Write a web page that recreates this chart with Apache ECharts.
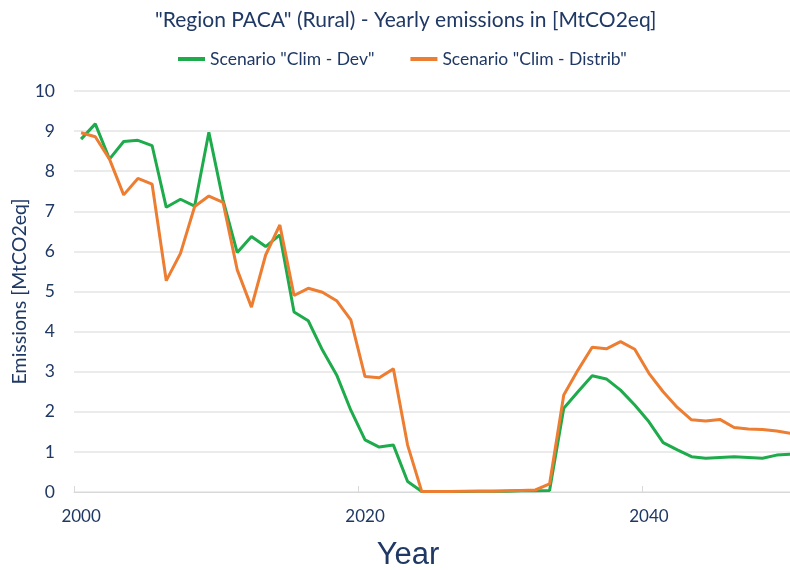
<!DOCTYPE html>
<html>
<head>
<meta charset="utf-8">
<script src="https://cdn.jsdelivr.net/npm/echarts@6/dist/echarts.min.js"></script>
<style>
  html, body { margin: 0; padding: 0; background: #ffffff; }
  #chart { width: 790px; height: 570px; }
</style>
</head>
<body>
<div id="chart"></div>
<script>
// Yearly emissions, region PACA (rural), two scenarios, in MtCO2eq
const years = [
  '2000','2001','2002','2003','2004','2005','2006','2007','2008','2009',
  '2010','2011','2012','2013','2014','2015','2016','2017','2018','2019',
  '2020','2021','2022','2023','2024','2025','2026','2027','2028','2029',
  '2030','2031','2032','2033','2034','2035','2036','2037','2038','2039',
  '2040','2041','2042','2043','2044','2045','2046','2047','2048','2049',
  '2050'
];

const climDev = [
  8.80, 9.18, 8.30, 8.74, 8.77, 8.64, 7.10, 7.30, 7.13, 8.97,
  7.28, 5.97, 6.37, 6.12, 6.41, 4.49, 4.27, 3.54, 2.92, 2.04,
  1.30, 1.12, 1.17, 0.26, 0.01, 0.01, 0.01, 0.01, 0.02, 0.02,
  0.02, 0.03, 0.03, 0.04, 2.09, 2.50, 2.90, 2.82, 2.54, 2.17,
  1.75, 1.23, 1.05, 0.88, 0.84, 0.86, 0.88, 0.86, 0.84, 0.92,
  0.94
];

const climDistrib = [
  8.96, 8.86, 8.30, 7.41, 7.82, 7.68, 5.27, 5.95, 7.12, 7.38,
  7.22, 5.54, 4.61, 5.91, 6.66, 4.90, 5.08, 4.98, 4.77, 4.29,
  2.88, 2.85, 3.07, 1.17, 0.01, 0.01, 0.01, 0.02, 0.02, 0.02,
  0.03, 0.04, 0.05, 0.20, 2.42, 3.04, 3.61, 3.57, 3.75, 3.56,
  2.96, 2.50, 2.11, 1.80, 1.77, 1.81, 1.61, 1.57, 1.56, 1.52,
  1.46
];

const seriesNames = ['Scenario "Clim - Dev"', 'Scenario "Clim - Distrib"'];
const titleText = '"Region PACA" (Rural) - Yearly emissions in [MtCO2eq]';

const NAVY = '#1f3864';
const FONT = 'Lato, "Open Sans", sans-serif';

const chart = echarts.init(document.getElementById('chart'), null, { renderer: 'canvas' });

chart.setOption({
  animation: false,
  backgroundColor: '#ffffff',
  title: {
    text: titleText,
    left: 150,
    top: 5,
    textStyle: { color: NAVY, fontFamily: FONT, fontSize: 21, fontWeight: 'normal' }
  },
  legend: {
    top: 50,
    left: 178,
    padding: 0,
    itemGap: 36,
    itemWidth: 27,
    itemHeight: 4,
    icon: 'rect',
    textStyle: { color: NAVY, fontFamily: FONT, fontSize: 17.5 },
    data: seriesNames
  },
  grid: {
    left: 74,
    top: 91,
    width: 724,
    bottom: 78,
    containLabel: false,
    outerBoundsMode: 'none'
  },
  xAxis: {
    type: 'category',
    data: years,
    boundaryGap: true,
    name: 'Year',
    nameLocation: 'middle',
    nameGap: 48,
    nameMoveOverlap: false,
    nameTextStyle: {
      color: NAVY,
      fontFamily: '"Liberation Sans", Arial, sans-serif',
      fontSize: 31,
      padding: [0, 56, 0, 0]
    },
    axisLine: { lineStyle: { color: '#d9d9d9', width: 1 } },
    axisTick: {
      show: true,
      interval: 19,
      inside: true,
      length: 6,
      lineStyle: { color: '#d9d9d9' }
    },
    axisLabel: {
      interval: 19,
      color: NAVY,
      fontFamily: FONT,
      fontSize: 17,
      margin: 16
    },
    splitLine: { show: false }
  },
  yAxis: {
    type: 'value',
    min: 0,
    max: 10,
    interval: 1,
    name: 'Emissions [MtCO2eq]',
    nameLocation: 'middle',
    nameGap: 44,
    nameMoveOverlap: false,
    nameRotate: 90,
    nameTextStyle: { color: NAVY, fontFamily: FONT, fontSize: 19.5 },
    axisLine: { show: false },
    axisTick: { show: false },
    axisLabel: { color: NAVY, fontFamily: FONT, fontSize: 17.5, margin: 19 },
    splitLine: { lineStyle: { color: '#e4e4e4', width: 1.5 } }
  },
  series: [
    {
      name: seriesNames[0],
      type: 'line',
      data: climDev,
      showSymbol: false,
      symbol: 'none',
      lineStyle: { color: '#1eab4b', width: 3 },
      itemStyle: { color: '#1eab4b' }
    },
    {
      name: seriesNames[1],
      type: 'line',
      data: climDistrib,
      showSymbol: false,
      symbol: 'none',
      lineStyle: { color: '#ed7d31', width: 3 },
      itemStyle: { color: '#ed7d31' }
    }
  ]
});
</script>
</body>
</html>
